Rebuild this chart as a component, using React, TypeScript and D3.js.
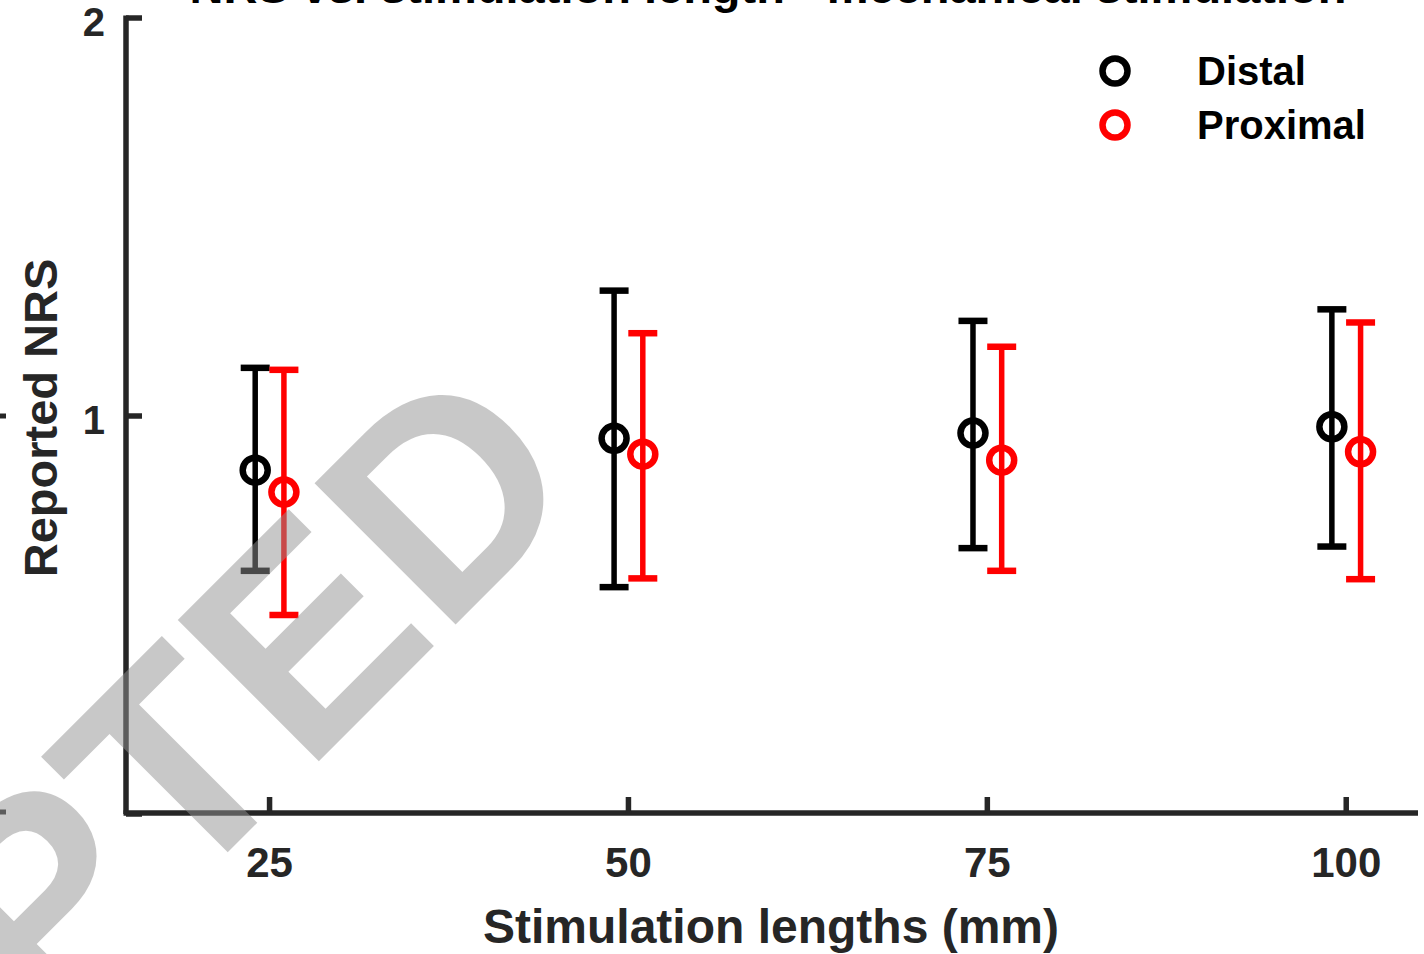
import React from "react";
import * as d3 from "d3";

const lengths = [25, 50, 75, 100];
const distalMean = [0.864, 0.944, 0.957, 0.973];
const distalLow = [0.611, 0.57, 0.668, 0.672];
const distalHigh = [1.121, 1.315, 1.239, 1.268];
const proximalMean = [0.809, 0.904, 0.889, 0.91];
const proximalLow = [0.5, 0.592, 0.611, 0.59];
const proximalHigh = [1.116, 1.208, 1.174, 1.235];
const yTicks = [0, 1, 2];
const yTickLabels = ["", "1", "2"];
const xTickLabels = ["25", "50", "75", "100"];
const seriesNames = ["Distal", "Proximal"];
const seriesColors = ["#000000", "#ff0000"];
const seriesOffsets = [-1, 1];

const W = 1424;
const H = 954;
const FONT = "'Liberation Sans', Arial, Helvetica, sans-serif";
const AX = "#262626";

export default function App() {
  const x = d3.scaleLinear().domain([15, 105]).range([126, 1418]);
  const y = d3.scaleLinear().domain([0, 2]).range([814, 18]);

  const series = [
    { mean: distalMean, low: distalLow, high: distalHigh },
    { mean: proximalMean, low: proximalLow, high: proximalHigh },
  ];
  const capHalf = 14.5;
  const r = 12.5;

  return (
    <svg
      width={W}
      height={H}
      style={{ position: "absolute", left: 0, top: 0, background: "#fff" }}
      fontFamily={FONT}
    >
      <rect x={0} y={0} width={W} height={H} fill="#fff" />
      {/* title (cut off at top) */}
      <text
        x={768}
        y={3}
        textAnchor="middle"
        fontSize={47}
        fontWeight="bold"
        fill="#000"
      >
        NRS vs. stimulation length - mechanical stimulation
      </text>

      {/* stray marks from neighbouring panel */}
      <line x1={0} x2={6} y1={416} y2={416} stroke={AX} strokeWidth={5} />
      <line x1={0} x2={6} y1={812} y2={812} stroke={AX} strokeWidth={5} />

      {/* axes */}
      <line x1={x(15)} x2={x(15)} y1={y(2) - 2.5} y2={y(0)} stroke={AX} strokeWidth={5.5} />
      <line x1={x(15) - 2.5} x2={x(105)} y1={y(0) - 1} y2={y(0) - 1} stroke={AX} strokeWidth={5.5} />
      {yTicks.map((t, i) => (
        <g key={"yt" + i}>
          <line x1={x(15)} x2={x(15) + 16} y1={y(t)} y2={y(t)} stroke={AX} strokeWidth={5.5} />
          <text
            x={x(15) - 21}
            y={y(t) + 18}
            textAnchor="end"
            fontSize={40}
            fontWeight="bold"
            fill={AX}
          >
            {yTickLabels[i]}
          </text>
        </g>
      ))}
      {lengths.map((v, i) => (
        <g key={"xt" + i}>
          <line x1={x(v)} x2={x(v)} y1={y(0)} y2={y(0) - 17} stroke={AX} strokeWidth={5.5} />
          <text
            x={x(v)}
            y={877}
            textAnchor="middle"
            fontSize={42}
            fontWeight="bold"
            fill={AX}
          >
            {xTickLabels[i]}
          </text>
        </g>
      ))}

      <text
        x={771}
        y={943}
        textAnchor="middle"
        fontSize={48}
        fontWeight="bold"
        fill={AX}
      >
        Stimulation lengths (mm)
      </text>
      <text
        transform={`translate(57,418) rotate(-90)`}
        textAnchor="middle"
        fontSize={47}
        fontWeight="bold"
        fill={AX}
      >
        Reported NRS
      </text>

      {/* error bars */}
      {series.map((s, si) =>
        lengths.map((v, i) => {
          const cx = x(v + seriesOffsets[si]);
          const c = seriesColors[si];
          return (
            <g key={`s${si}-${i}`}>
              <line x1={cx} x2={cx} y1={y(s.low[i])} y2={y(s.high[i])} stroke={c} strokeWidth={5.5} />
              <line x1={cx - capHalf} x2={cx + capHalf} y1={y(s.low[i])} y2={y(s.low[i])} stroke={c} strokeWidth={6.5} />
              <line x1={cx - capHalf} x2={cx + capHalf} y1={y(s.high[i])} y2={y(s.high[i])} stroke={c} strokeWidth={6.5} />
              <circle cx={cx} cy={y(s.mean[i])} r={r} fill="none" stroke={c} strokeWidth={6.5} />
            </g>
          );
        })
      )}

      {/* legend */}
      {seriesNames.map((n, i) => (
        <g key={"lg" + i}>
          <circle cx={1115} cy={71 + i * 54} r={r} fill="none" stroke={seriesColors[i]} strokeWidth={6.5} />
          <text x={1197} y={85 + i * 54} fontSize={40} fontWeight="bold" fill="#000">
            {n}
          </text>
        </g>
      ))}

      {/* watermark */}
      <text
        transform="translate(590,490) rotate(-45)"
        textAnchor="end"
        fontSize={290}
        fontWeight="bold"
        fill="#929292"
        fillOpacity={0.5}
      >
        ACCEPTED
      </text>
    </svg>
  );
}
